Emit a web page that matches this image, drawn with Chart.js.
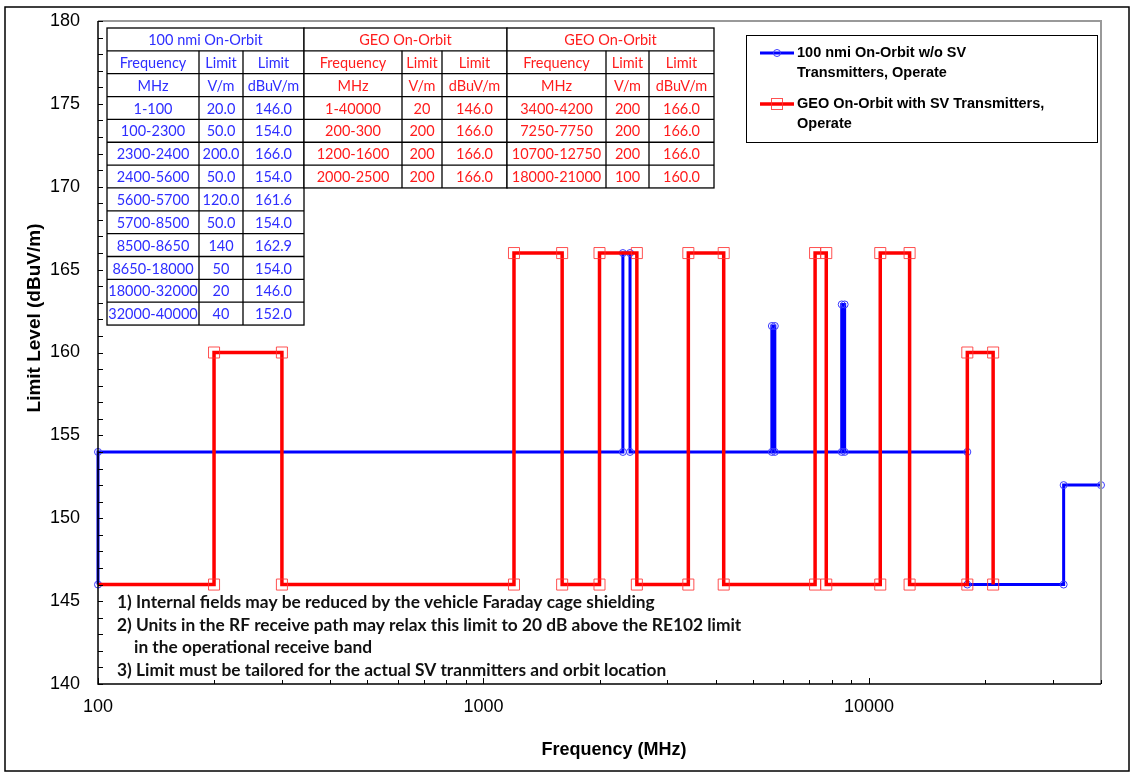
<!DOCTYPE html>
<html>
<head>
<meta charset="utf-8">
<script src="https://cdn.jsdelivr.net/npm/chart.js@4.4.1/dist/chart.umd.min.js"></script>
<style>
    html, body { margin: 0; padding: 0; background: #fff; }
    #contenedor { width: 1132px; height: 774px; }
</style>
</head>
<body>
<div id="contenedor"><canvas id="Grafico" width="1132" height="774"></canvas></div>
<script>
// Serie azul: 100 nmi On-Orbit (escalones)
const frecuencias_azul = [100, 100, 2300, 2300, 2400, 2400, 5600, 5600, 5700, 5700, 8500, 8500, 8650, 8650, 18000, 18000, 32000, 32000, 40000];
const niveles_azul = [146, 154, 154, 166, 166, 154, 154, 161.6, 161.6, 154, 154, 162.9, 162.9, 154, 154, 146, 146, 152, 152];

// Serie roja: GEO On-Orbit
const frecuencias_rojo = [100, 200, 200, 300, 300, 1200, 1200, 1600, 1600, 2000, 2000, 2500, 2500, 3400, 3400, 4200, 4200, 7250, 7250, 7750, 7750, 10700, 10700, 12750, 12750, 18000, 18000, 21000, 21000];
const niveles_rojo = [146, 146, 160, 160, 146, 146, 166, 166, 146, 146, 166, 166, 146, 146, 166, 166, 146, 146, 166, 166, 146, 146, 166, 166, 146, 146, 160, 160, 146];

const etiquetas_x = [100, 1000, 10000];
const etiquetas_y = [140, 145, 150, 155, 160, 165, 170, 175, 180];

const nombre_azul = ['100 nmi On-Orbit w/o SV', 'Transmitters, Operate'];
const nombre_rojo = ['GEO On-Orbit with SV Transmitters,', 'Operate'];
const titulo_x = 'Frequency (MHz)';
const titulo_y = 'Limit Level (dBuV/m)';

// Tablas
const encabezado_1 = ['Frequency', 'Limit', 'Limit'];
const encabezado_2 = ['MHz', 'V/m', 'dBuV/m'];
const tabla_azul_titulo = '100 nmi On-Orbit';
const tabla_azul_filas = [
    ['1-100', '20.0', '146.0'],
    ['100-2300', '50.0', '154.0'],
    ['2300-2400', '200.0', '166.0'],
    ['2400-5600', '50.0', '154.0'],
    ['5600-5700', '120.0', '161.6'],
    ['5700-8500', '50.0', '154.0'],
    ['8500-8650', '140', '162.9'],
    ['8650-18000', '50', '154.0'],
    ['18000-32000', '20', '146.0'],
    ['32000-40000', '40', '152.0']
];
const tabla_geo_titulo = 'GEO On-Orbit';
const tabla_geo1_filas = [
    ['1-40000', '20', '146.0'],
    ['200-300', '200', '166.0'],
    ['1200-1600', '200', '166.0'],
    ['2000-2500', '200', '166.0']
];
const tabla_geo2_filas = [
    ['3400-4200', '200', '166.0'],
    ['7250-7750', '200', '166.0'],
    ['10700-12750', '200', '166.0'],
    ['18000-21000', '100', '160.0']
];

const notas = [
    '1) Internal fields may be reduced by the vehicle Faraday cage shielding',
    '2) Units in the RF receive path may relax this limit to 20 dB above the RE102 limit',
    '   in the operational receive band',
    '3) Limit must be tailored for the actual SV tranmitters and orbit location'
];

const AZUL = '#0000ff';
const ROJO = '#ff0000';
const TEXTO_AZUL = '#2e2eff';
const TEXTO_ROJO = '#ff1c1c';
const ALTO_FILA = 22.85;

function dibujarTabla(ctx, x_cols, y0, titulo, filas, color) {
    const todas = [[titulo], encabezado_1, encabezado_2].concat(filas);
    const n = todas.length;
    ctx.save();
    ctx.fillStyle = '#fff';
    ctx.fillRect(x_cols[0], y0, x_cols[3] - x_cols[0], n * ALTO_FILA);
    ctx.strokeStyle = '#000';
    ctx.lineWidth = 1.3;
    ctx.strokeRect(x_cols[0], y0, x_cols[3] - x_cols[0], n * ALTO_FILA);
    for (let i = 1; i < n; i++) {
        ctx.beginPath();
        ctx.moveTo(x_cols[0], y0 + i * ALTO_FILA);
        ctx.lineTo(x_cols[3], y0 + i * ALTO_FILA);
        ctx.stroke();
    }
    for (let c = 1; c < 3; c++) {
        ctx.beginPath();
        ctx.moveTo(x_cols[c], y0 + ALTO_FILA);
        ctx.lineTo(x_cols[c], y0 + n * ALTO_FILA);
        ctx.stroke();
    }
    ctx.fillStyle = color;
    ctx.font = '14.5px Lato';
    ctx.textAlign = 'center';
    ctx.textBaseline = 'middle';
    ctx.fillText(titulo, (x_cols[0] + x_cols[3]) / 2, y0 + ALTO_FILA / 2 + 1);
    for (let i = 1; i < n; i++) {
        for (let c = 0; c < 3; c++) {
            ctx.fillText(todas[i][c], (x_cols[c] + x_cols[c + 1]) / 2, y0 + (i + 0.5) * ALTO_FILA + 1);
        }
    }
    ctx.restore();
}

const decoracion = {
    id: 'decoracion',
    beforeDraw(chart) {
        const ctx = chart.ctx;
        ctx.save();
        ctx.fillStyle = '#fff';
        ctx.fillRect(0, 0, chart.width, chart.height);
        ctx.restore();
    },
    afterDraw(chart) {
        const ctx = chart.ctx;
        const area = chart.chartArea;
        const ex = chart.scales.x;
        const ey = chart.scales.y;
        ctx.save();

        // bordes del area
        ctx.strokeStyle = '#999';
        ctx.lineWidth = 2;
        ctx.beginPath();
        ctx.moveTo(area.left, area.top);
        ctx.lineTo(area.right, area.top);
        ctx.lineTo(area.right, area.bottom);
        ctx.stroke();
        ctx.strokeStyle = '#000';
        ctx.lineWidth = 1.5;
        ctx.beginPath();
        ctx.moveTo(area.left, area.top);
        ctx.lineTo(area.left, area.bottom);
        ctx.lineTo(area.right, area.bottom);
        ctx.stroke();

        // marcas hacia adentro
        ctx.lineWidth = 1;
        for (let v = 140; v <= 180; v++) {
            const py = Math.round(ey.getPixelForValue(v)) + 0.5;
            ctx.beginPath();
            ctx.moveTo(area.left, py);
            ctx.lineTo(area.left + 5, py);
            ctx.stroke();
        }
        for (const d of etiquetas_x) {
            for (let k = 1; k <= 9; k++) {
                const v = d * k;
                if (v > 40000) continue;
                const px = Math.round(ex.getPixelForValue(v)) + 0.5;
                ctx.beginPath();
                ctx.moveTo(px, area.bottom);
                ctx.lineTo(px, area.bottom - (k === 1 ? 6 : 4));
                ctx.stroke();
            }
        }

        // tablas
        dibujarTabla(ctx, [107, 199, 243, 304], 28, tabla_azul_titulo, tabla_azul_filas, TEXTO_AZUL);
        dibujarTabla(ctx, [304, 402, 442, 507], 28, tabla_geo_titulo, tabla_geo1_filas, TEXTO_ROJO);
        dibujarTabla(ctx, [507, 606, 649, 714], 28, tabla_geo_titulo, tabla_geo2_filas, TEXTO_ROJO);

        // leyenda
        ctx.fillStyle = '#fff';
        ctx.fillRect(746, 35, 351, 107);
        ctx.strokeStyle = '#000';
        ctx.lineWidth = 1;
        ctx.strokeRect(746.5, 35.5, 351, 107);
        ctx.lineWidth = 3;
        ctx.strokeStyle = AZUL;
        ctx.beginPath(); ctx.moveTo(760, 53); ctx.lineTo(794, 53); ctx.stroke();
        ctx.lineWidth = 1;
        ctx.strokeStyle = '#3a3aff';
        ctx.beginPath(); ctx.arc(777, 53, 3.5, 0, Math.PI * 2); ctx.stroke();
        ctx.lineWidth = 3.5;
        ctx.strokeStyle = ROJO;
        ctx.beginPath(); ctx.moveTo(760, 104); ctx.lineTo(794, 104); ctx.stroke();
        ctx.lineWidth = 1;
        ctx.strokeStyle = 'rgba(255,50,50,0.85)';
        ctx.strokeRect(771.5, 98.5, 11, 11);
        ctx.fillStyle = '#000';
        ctx.font = 'bold 14.5px "Liberation Sans"';
        ctx.textAlign = 'left';
        ctx.textBaseline = 'middle';
        ctx.fillText(nombre_azul[0], 797, 53);
        ctx.fillText(nombre_azul[1], 797, 73);
        ctx.fillText(nombre_rojo[0], 797, 104);
        ctx.fillText(nombre_rojo[1], 797, 124);

        // notas (ancho ajustado al de la referencia)
        ctx.font = 'bold 15px Lato';
        const ancho = ctx.measureText(notas[0]).width;
        const tam = 15 * 538 / ancho;
        ctx.font = 'bold ' + tam.toFixed(2) + 'px Lato';
        ctx.fillStyle = '#111';
        const y_notas = [602, 625, 647, 670];
        notas.forEach((t, i) => {
            if (t.startsWith('   ')) ctx.fillText(t.trim(), 134, y_notas[i]);
            else ctx.fillText(t, 117, y_notas[i]);
        });

        // titulos de ejes
        ctx.font = 'bold 18px "Liberation Sans"';
        ctx.fillStyle = '#000';
        ctx.textAlign = 'center';
        ctx.fillText(titulo_x, 614, 750);
        ctx.font = 'bold 19px "Liberation Sans"';
        ctx.translate(35, 318);
        ctx.rotate(-Math.PI / 2);
        ctx.fillText(titulo_y, 0, 0);
        ctx.restore();

        // marco exterior
        ctx.save();
        ctx.strokeStyle = '#000';
        ctx.lineWidth = 1.5;
        ctx.strokeRect(5, 7, 1124, 764);
        ctx.restore();
    }
};

const ctx = document.getElementById('Grafico');

new Chart(ctx, {
    type: 'line',
    data: {
        datasets: [{
            label: nombre_azul.join(' '),
            data: frecuencias_azul.map((f, i) => ({ x: f, y: niveles_azul[i] })),
            borderColor: AZUL,
            borderWidth: 3,
            pointStyle: 'circle',
            pointRadius: 3.5,
            pointBorderWidth: 1,
            pointBorderColor: '#3a3aff',
            pointBackgroundColor: 'rgba(0,0,0,0)',
            fill: false,
            tension: 0,
            clip: false,
            order: 1
        }, {
            label: nombre_rojo.join(' '),
            data: frecuencias_rojo.map((f, i) => ({ x: f, y: niveles_rojo[i] })),
            borderColor: ROJO,
            borderWidth: 3.5,
            pointStyle: 'rect',
            pointRadius: (c) => c.dataIndex === 0 ? 0 : 7.8,
            pointBorderWidth: 1,
            pointBorderColor: 'rgba(255,50,50,0.85)',
            pointBackgroundColor: 'rgba(0,0,0,0)',
            fill: false,
            tension: 0,
            clip: false,
            order: 0
        }]
    },
    options: {
        responsive: false,
        animation: false,
        layout: { padding: { left: 0, top: 21, right: 31, bottom: 0 } },
        plugins: {
            legend: { display: false },
            tooltip: { enabled: false }
        },
        scales: {
            x: {
                type: 'logarithmic',
                min: 100,
                max: 40000,
                afterFit: (s) => { s.height = 90; },
                afterBuildTicks: (s) => { s.ticks = etiquetas_x.map(v => ({ value: v })); },
                ticks: {
                    callback: (v) => String(v),
                    autoSkip: false,
                    maxRotation: 0,
                    padding: 4,
                    color: '#000',
                    font: { family: 'Liberation Sans', size: 18 }
                },
                grid: { display: false },
                border: { display: false }
            },
            y: {
                min: 140,
                max: 180,
                afterFit: (s) => { s.width = 98; },
                afterBuildTicks: (s) => { s.ticks = etiquetas_y.map(v => ({ value: v })); },
                ticks: {
                    padding: 10,
                    color: '#000',
                    font: { family: 'Liberation Sans', size: 18 }
                },
                grid: { display: false },
                border: { display: false }
            }
        }
    },
    plugins: [decoracion]
});
</script>
</body>
</html>
